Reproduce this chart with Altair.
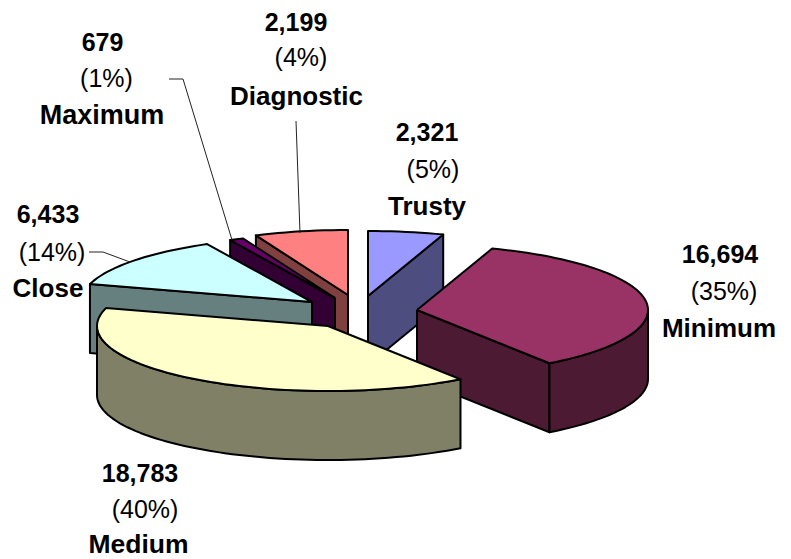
import math
import altair as alt
import pandas as pd

categories = ["Trusty", "Minimum", "Medium", "Close", "Maximum", "Diagnostic"]
counts = ["2,321", "16,694", "18,783", "6,433", "679", "2,199"]
shares = ["(5%)", "(35%)", "(40%)", "(14%)", "(1%)", "(4%)"]
# slice boundaries as drawn in the picture, clockwise from 12 o'clock (degrees)
start_deg = [0, 19, 145, 286, 333, 336.5]
end_deg = [19, 145, 286, 333, 336.5, 360]
# exploded slice tips
tip_x = [368, 417, 328, 312, 335, 348]
tip_y = [296, 310, 326, 302, 298, 295]
top_colors = ["#9999FF", "#993366", "#FFFFCC", "#CCFFFF", "#660066", "#FF8080"]
wall_colors = ["#4D4D80", "#4D1A33", "#808066", "#668080", "#330033", "#804040"]
draw_order = ["Trusty", "Diagnostic", "Maximum", "Minimum", "Close", "Medium"]
RX, RY, DEPTH = 231, 65, 69

W, H = 775, 551
xs = alt.Scale(domain=[8, 8 + W], range=[0, W], nice=False, zero=False)
ys = alt.Scale(domain=[8 + H, 8], range=[H, 0], nice=False, zero=False)


def arc(i, a, b, dz=0):
    n = max(2, int(abs(b - a) / 2) + 2)
    out = []
    for k in range(n):
        t = math.radians(a + (b - a) * k / (n - 1))
        out.append((tip_x[i] + RX * math.sin(t), tip_y[i] - RY * math.cos(t) + dz))
    return out


def poly(points, fill):
    pts = list(points) + [points[0]]
    df = pd.DataFrame({"px": [p[0] for p in pts], "py": [p[1] for p in pts], "o": list(range(len(pts)))})
    return alt.Chart(df).mark_line(
        fill=fill, stroke="black", strokeWidth=2, strokeJoin="round", clip=False
    ).encode(
        x=alt.X("px:Q", scale=xs, axis=None),
        y=alt.Y("py:Q", scale=ys, axis=None),
        order="o:Q",
    )


def leader(points):
    df = pd.DataFrame({"px": [p[0] for p in points], "py": [p[1] for p in points], "o": list(range(len(points)))})
    return alt.Chart(df).mark_line(stroke="#222222", strokeWidth=1).encode(
        x=alt.X("px:Q", scale=xs, axis=None),
        y=alt.Y("py:Q", scale=ys, axis=None),
        order="o:Q",
    )


layers = []
for name in draw_order:
    i = categories.index(name)
    a, b = start_deg[i], end_deg[i]
    tip = (tip_x[i], tip_y[i])
    # cut face visible to the viewer
    edge = b if a < 90 and b < 90 else a
    if name == "Minimum" or name == "Medium":
        edge = None if name == "Medium" else b
    if edge is not None:
        outer = arc(i, edge, edge)[0]
        layers.append(poly([tip, outer, (outer[0], outer[1] + DEPTH), (tip[0], tip[1] + DEPTH)], wall_colors[i]))
    # outer rim visible at the front of the pie
    lo, hi = max(a, 90), min(b, 270)
    if lo < hi:
        rim = arc(i, lo, hi) + arc(i, hi, lo, DEPTH)
        layers.append(poly(rim, wall_colors[i]))
    layers.append(poly([tip] + arc(i, a, b), top_colors[i]))

layers.append(leader([(169, 79), (183, 79), (232, 240)]))
layers.append(leader([(296, 121), (300, 233)]))
layers.append(leader([(89, 252), (103, 252), (130, 262)]))

label_x_count = [427, 720, 140, 48, 102.5, 296]
label_y_count = [141, 263, 482, 223, 51, 31]
label_x_share = [433, 724, 145, 52, 106.5, 301]
label_y_share = [178, 300, 518, 261, 87, 66]
label_x_name = [427, 719, 138.5, 48, 102, 296.5]
label_y_name = [215, 337, 553, 297, 124, 105]
name_sizes = [26, 26, 26.5, 26, 27, 26]

bold = pd.DataFrame({
    "t": counts + categories,
    "px": label_x_count + label_x_name,
    "py": label_y_count + label_y_name,
    "fs": [25] * 6 + name_sizes,
})
normal = pd.DataFrame({"t": shares, "px": label_x_share, "py": label_y_share})

layers.append(
    alt.Chart(bold).mark_text(font="Liberation Sans", fontWeight="bold", color="black", align="center", baseline="alphabetic").encode(
        x=alt.X("px:Q", scale=xs, axis=None),
        y=alt.Y("py:Q", scale=ys, axis=None),
        text="t:N",
        size=alt.Size("fs:Q", scale=None, legend=None),
    )
)
layers.append(
    alt.Chart(normal).mark_text(font="Liberation Sans", fontSize=25, color="black", align="center", baseline="alphabetic").encode(
        x=alt.X("px:Q", scale=xs, axis=None),
        y=alt.Y("py:Q", scale=ys, axis=None),
        text="t:N",
    )
)

chart = alt.layer(*layers).properties(
    width=W, height=H, padding=0, background="white", autosize=alt.AutoSizeParams(type="none")
).configure_view(stroke=None)

chart.save("out.html", embed_options={"renderer": "svg", "actions": False})
